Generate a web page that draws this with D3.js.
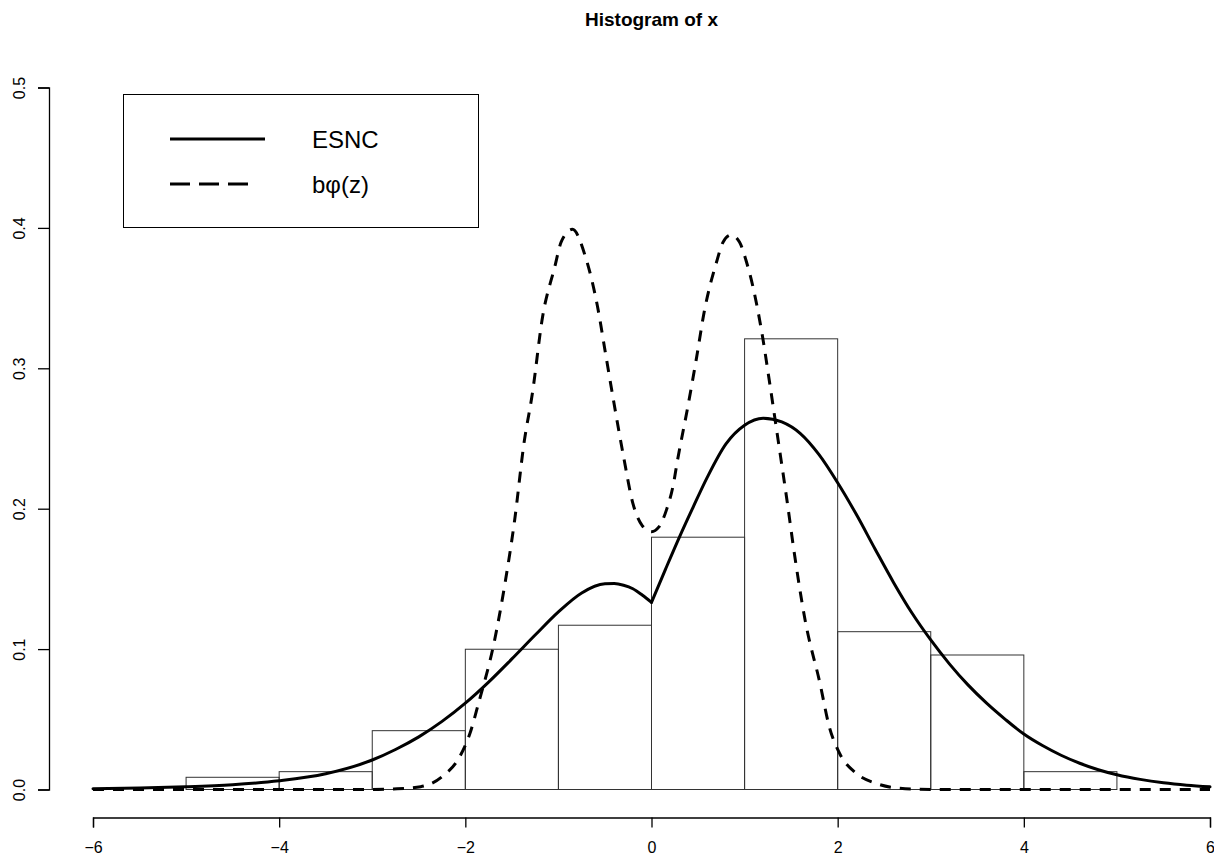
<!DOCTYPE html>
<html>
<head>
<meta charset="utf-8">
<script src="https://cdn.jsdelivr.net/npm/d3@7"></script>
<style>
  html, body { margin: 0; padding: 0; background: #fff; }
  svg { display: block; font-family: "Liberation Sans", Arial, Helvetica, sans-serif; }
</style>
</head>
<body>
<svg id="chart" width="1214" height="856"></svg>
<script>
// ---- data ----
const binStarts = [-5, -4, -3, -2, -1, 0, 1, 2, 3, 4];
const binEnds   = [-4, -3, -2, -1, 0, 1, 2, 3, 4, 5];
const density   = [0.0087, 0.0127, 0.0419, 0.0999, 0.1170, 0.1797, 0.3210, 0.1124, 0.0958, 0.0127];

// ESNC curve, left of the kink at 0
const esncLeftX = [-6, -5.5, -5, -4.5, -4, -3.5, -3, -2.75, -2.5, -2.25, -2, -1.75, -1.5, -1.25, -1.0, -0.75, -0.5, -0.4, -0.3, -0.2, -0.1, 0];
const esncLeftY = [0.0005, 0.001, 0.0019, 0.0034, 0.0062, 0.0112, 0.021, 0.0285, 0.0375, 0.0485, 0.0615, 0.0765, 0.093, 0.110, 0.1265, 0.140, 0.1465, 0.1467, 0.1455, 0.143, 0.1385, 0.1333];
// ESNC curve, right of the kink at 0
const esncRightX = [0, 0.15, 0.3, 0.45, 0.6, 0.8, 1.0, 1.2, 1.4, 1.6, 1.8, 2.0, 2.2, 2.4, 2.6, 2.8, 3.0, 3.2, 3.4, 3.6, 3.8, 4.0, 4.2, 4.4, 4.6, 4.8, 5.0, 5.25, 5.5, 5.75, 6.0];
const esncRightY = [0.1333, 0.1568, 0.1798, 0.2015, 0.2225, 0.2462, 0.2595, 0.2645, 0.2618, 0.2535, 0.2385, 0.2185, 0.196, 0.1715, 0.1475, 0.1255, 0.1065, 0.0895, 0.0745, 0.0615, 0.050, 0.0395, 0.0313, 0.0244, 0.0187, 0.0141, 0.0105, 0.0072, 0.0048, 0.0031, 0.0019];

const bphiX = [-6, -3.0, -2.77, -2.48, -2.25, -2.06, -1.95, -1.86, -1.69, -1.58, -1.47, -1.37, -1.28, -1.17, -1.04, -0.97, -0.85, -0.71, -0.58, -0.49, -0.40, -0.30, -0.20, -0.10, 0.0,
               0.08, 0.16, 0.23, 0.28, 0.39, 0.48, 0.57, 0.695, 0.77, 0.855, 0.945, 1.015, 1.09, 1.19, 1.27, 1.36, 1.45, 1.54, 1.65, 1.81, 1.91, 2.02, 2.20, 2.41, 2.66, 3.0, 6.0];
const bphiY = [0, 0, 0.0004, 0.002, 0.0091, 0.0234, 0.040, 0.061, 0.105, 0.1444, 0.192, 0.2466, 0.282, 0.3368, 0.372, 0.390, 0.399, 0.3795, 0.344, 0.309, 0.274, 0.237, 0.2038, 0.188, 0.1836,
               0.187, 0.199, 0.2157, 0.2347, 0.2726, 0.306, 0.3415, 0.3748, 0.390, 0.395, 0.390, 0.377, 0.358, 0.3237, 0.2893, 0.249, 0.2085, 0.1658, 0.1207, 0.0756, 0.0447, 0.0258, 0.0115, 0.0044, 0.0009, 0, 0];

const xTicks = [-6, -4, -2, 0, 2, 4, 6];
const yTicks = [0, 0.1, 0.2, 0.3, 0.4, 0.5];
const legendLabels = ["ESNC", "b\u03C6(z)"];

// ---- layout ----
const svg = d3.select("#chart");
const x = d3.scaleLinear().domain([-6, 6]).range([93, 1210]);
const y = d3.scaleLinear().domain([0, 0.5]).range([789.5, 87.5]);

// title
svg.append("text")
  .attr("x", (x(-6) + x(6)) / 2).attr("y", 26)
  .attr("text-anchor", "middle")
  .style("font-weight", "bold").style("font-size", "19px")
  .text("Histogram of x");

// histogram bars
const bins = binStarts.map((s, i) => ({ x0: s, x1: binEnds[i], d: density[i] }));
svg.append("g").selectAll("rect").data(bins).join("rect")
  .attr("x", d => x(d.x0)).attr("width", d => x(d.x1) - x(d.x0))
  .attr("y", d => y(d.d)).attr("height", d => y(0) - y(d.d))
  .attr("fill", "none").attr("stroke", "#333").attr("stroke-width", 1);

// x axis
const xAxis = d3.axisBottom(x).tickValues(xTicks).tickSize(10).tickPadding(14)
  .tickFormat(d => d3.format("d")(d).replace("-", "\u2212"));
const gx = svg.append("g").attr("transform", "translate(0,817.5)").call(xAxis);
gx.select(".domain").attr("stroke", "#000").attr("stroke-width", 1.3);
gx.selectAll(".tick line").attr("stroke", "#000").attr("stroke-width", 1.3);
gx.selectAll(".tick text").style("font-size", "16px").attr("fill", "#000")
  .attr("font-family", "'Liberation Sans', Arial, sans-serif");

// y axis
const yAxis = d3.axisLeft(y).tickValues(yTicks).tickSize(11).tickFormat(d3.format(".1f"));
const gy = svg.append("g").attr("transform", "translate(49,0)").call(yAxis);
gy.select(".domain").attr("stroke", "#000").attr("stroke-width", 1.3);
gy.selectAll(".tick line").attr("stroke", "#000").attr("stroke-width", 1.3);
gy.selectAll(".tick text")
  .attr("x", null).attr("dy", null)
  .attr("text-anchor", "middle")
  .attr("transform", "translate(-24,0) rotate(-90)")
  .style("font-size", "16px").attr("fill", "#000")
  .attr("font-family", "'Liberation Sans', Arial, sans-serif");

// curves
const toPts = (xs, ys) => xs.map((v, i) => ({ x: v, y: ys[i] }));
const smooth = d3.line().x(d => x(d.x)).y(d => y(d.y)).curve(d3.curveMonotoneX);
[toPts(esncLeftX, esncLeftY), toPts(esncRightX, esncRightY)].forEach(part => {
  svg.append("path").datum(part).attr("d", smooth)
    .attr("fill", "none").attr("stroke", "#000").attr("stroke-width", 3)
    .attr("stroke-linecap", "round").attr("stroke-linejoin", "round");
});

svg.append("path").datum(toPts(bphiX, bphiY)).attr("d", smooth)
  .attr("fill", "none").attr("stroke", "#000").attr("stroke-width", 3)
  .attr("stroke-dasharray", "11,9");

// legend
const lg = svg.append("g");
lg.append("rect").attr("x", 123.5).attr("y", 94.5).attr("width", 355).attr("height", 133)
  .attr("fill", "#fff").attr("stroke", "#000").attr("stroke-width", 1);
const legendY = [139, 184];
legendLabels.forEach((lab, i) => {
  lg.append("line").attr("x1", 170).attr("x2", i === 0 ? 265 : 256)
    .attr("y1", legendY[i]).attr("y2", legendY[i])
    .attr("stroke", "#000").attr("stroke-width", 3)
    .attr("stroke-dasharray", i === 0 ? null : "20,9");
  lg.append("text").attr("x", 312).attr("y", legendY[i] + 9)
    .style("font-size", "24px").text(lab);
});
</script>
</body>
</html>
